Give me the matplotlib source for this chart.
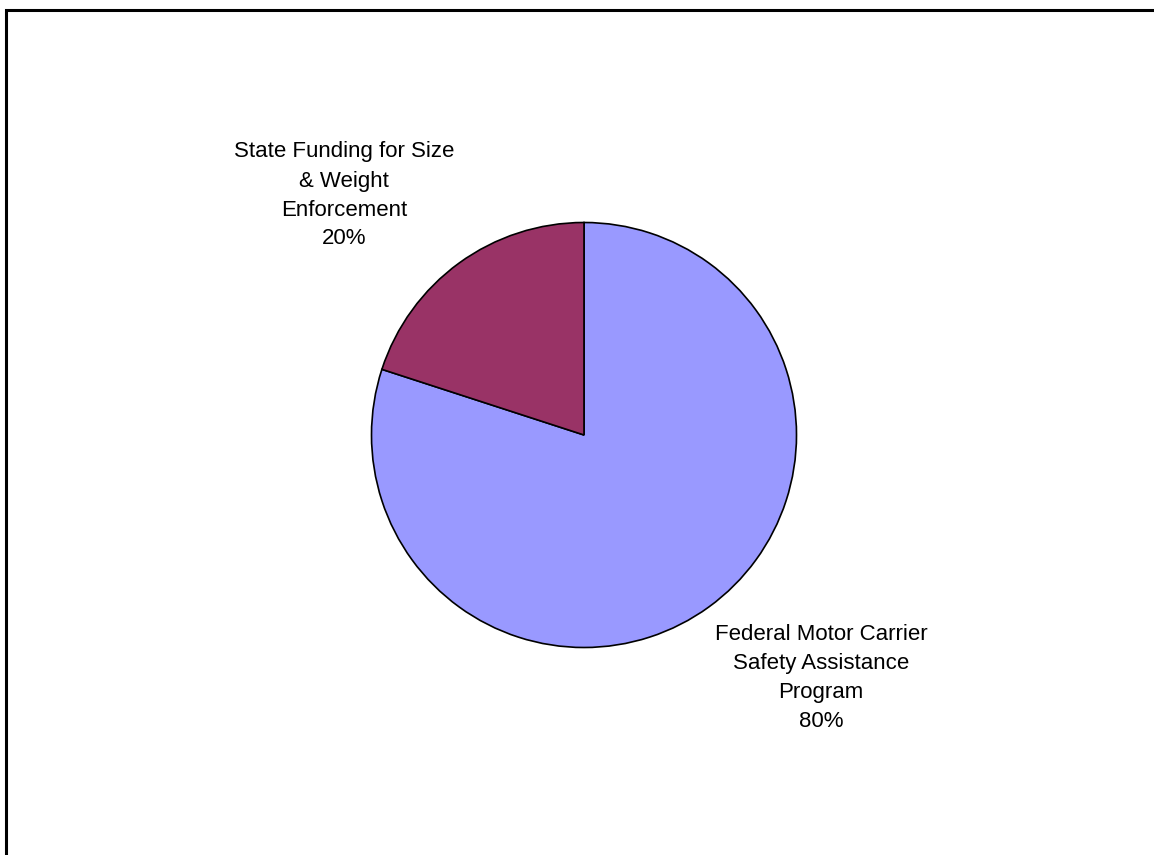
import matplotlib
matplotlib.use("Agg")
import matplotlib.pyplot as plt
from matplotlib.patches import Rectangle

categories = ["Federal Motor Carrier\nSafety Assistance\nProgram", "State Funding for Size\n& Weight\nEnforcement"]
values = [80, 20]
colors = ["#9999FF", "#993366"]

plt.rcParams['font.family'] = ['Liberation Sans', 'DejaVu Sans']

W, H = 1154, 855
fig = plt.figure(figsize=(W/100, H/100), dpi=100)
fig.patch.set_facecolor("white")

cx, cy, r = 584, 435, 212.5
ax = fig.add_axes([(cx - r)/W, (H - cy - r)/H, 2*r/W, 2*r/H])
ax.pie(values, colors=colors, startangle=90, counterclock=False,
       wedgeprops=dict(edgecolor="black", linewidth=1.2), radius=1.0)
ax.set_xlim(-1, 1)
ax.set_ylim(-1, 1)
ax.set_aspect("equal")
ax.axis("off")

label_pos = [(821, 677.5), (344, 195.5)]
for cat, v, (px, py) in zip(categories, values, label_pos):
    fig.text(px/W, 1 - py/H, f"{cat}\n{v}%", ha="center", va="center",
             fontsize=16, linespacing=1.5, color="black")

fig.patches.append(Rectangle((6/W, -0.1), 1.2, 1 - 10.5/H + 0.1, transform=fig.transFigure,
                             fill=False, edgecolor="black", linewidth=2.2))

fig.savefig("out.png", dpi=100)
